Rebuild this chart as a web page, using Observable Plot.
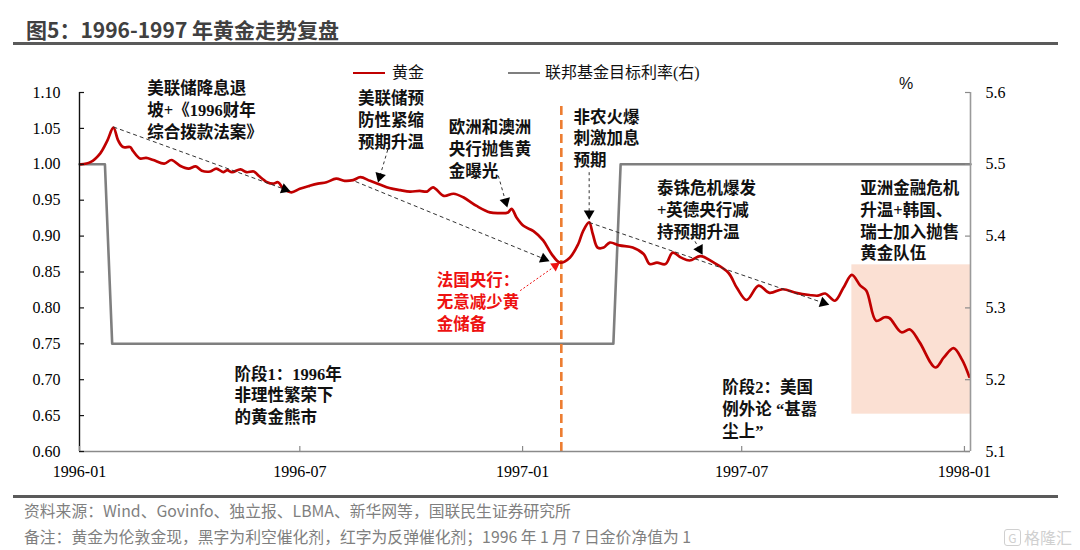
<!DOCTYPE html>
<html>
<head>
<meta charset="utf-8">
<script src="https://cdn.jsdelivr.net/npm/d3@7"></script>
<script src="https://cdn.jsdelivr.net/npm/@observablehq/plot@0.6"></script>
<style>
  body { margin: 0; background: #fff; }
  #fig { position: relative; width: 1080px; height: 550px; overflow: hidden; font-family: "Noto Sans CJK SC", sans-serif; }
  .abs { position: absolute; white-space: nowrap; }
  #title { left: 26px; top: 15px; font-size: 21px; line-height: 28px; font-weight: bold; color: #404040; }
  .rule { position: absolute; left: 13px; width: 1045px; height: 3px; background: #5a5a5a; }
  .legline { position: absolute; height: 2.6px; width: 32px; }
  .legtext { font-family: "Liberation Serif", "Noto Sans CJK SC", serif; font-size: 16px; line-height: 20px; color: #111; }
  .src { left: 24px; font-size: 15.8px; line-height: 22px; color: #7f7f7f; }
  #chart { position: absolute; left: 0; top: 0; }
  #wm { left: 1004px; top: 527px; font-size: 16px; line-height: 20px; color: #d0d0d0; }
  #wm span { display: inline-block; border: 1.5px solid #d0d0d0; border-radius: 3px; width: 15px; height: 15px; line-height: 15px; text-align: center; font-size: 12px; margin-right: 3px; vertical-align: 1px; }
</style>
</head>
<body>
<div id="fig">
  <div id="chart"></div>
  <div id="title" class="abs">图5：1996-1997 年黄金走势复盘</div>
  <div class="rule" style="top:41.5px"></div>
  <div class="legline" style="left:353px; top:71.5px; background:#C00000"></div>
  <div class="abs legtext" style="left:392px; top:62.5px">黄金</div>
  <div class="legline" style="left:508px; top:71.5px; background:#7f7f7f"></div>
  <div class="abs legtext" style="left:545px; top:62.5px">联邦基金目标利率(右)</div>
  <div class="abs legtext" style="left:899px; top:74px; font-family:'Liberation Sans','Noto Sans CJK SC',sans-serif;">%</div>
  <div class="rule" style="top:494.5px"></div>
  <div class="abs src" style="top:499.5px">资料来源：Wind、Govinfo、独立报、LBMA、新华网等，国联民生证券研究所</div>
  <div class="abs src" style="top:525.5px">备注：黄金为伦敦金现，黑字为利空催化剂，红字为反弹催化剂；1996 年 1 月 7 日金价净值为 1</div>
  <div id="wm" class="abs"><span>G</span>格隆汇</div>
</div>
<script>
// ---------- data ----------
const goldDates = [
  "1996-01-02","1996-01-10","1996-01-18","1996-01-24","1996-01-29","1996-02-02","1996-02-06","1996-02-12",
  "1996-02-14","1996-02-20","1996-02-25","1996-03-02","1996-03-11","1996-03-17","1996-03-24","1996-03-31",
  "1996-04-06","1996-04-11","1996-04-18","1996-04-23","1996-04-29","1996-05-02","1996-05-06","1996-05-13",
  "1996-05-18","1996-05-24","1996-05-28","1996-06-04","1996-06-09","1996-06-13","1996-06-17","1996-06-24",
  "1996-07-01","1996-07-09","1996-07-16","1996-07-23","1996-07-31","1996-08-07","1996-08-14","1996-08-20",
  "1996-08-28","1996-09-05","1996-09-13","1996-09-22","1996-09-30","1996-10-08","1996-10-14","1996-10-19",
  "1996-10-28","1996-11-05","1996-11-13","1996-11-24","1996-12-05","1996-12-13","1996-12-20","1996-12-23",
  "1996-12-27","1997-01-02","1997-01-10","1997-01-18","1997-01-25","1997-02-01","1997-02-09","1997-02-16",
  "1997-02-20","1997-02-25","1997-02-28","1997-03-04","1997-03-09","1997-03-14","1997-03-22","1997-04-02",
  "1997-04-11","1997-04-16","1997-04-22","1997-04-29","1997-05-05","1997-05-12","1997-05-19","1997-05-28",
  "1997-06-07","1997-06-20","1997-06-27","1997-07-05","1997-07-15","1997-07-24","1997-08-04","1997-08-15",
  "1997-08-26","1997-09-02","1997-09-08","1997-09-16","1997-09-23","1997-09-30","1997-10-07","1997-10-12",
  "1997-10-20","1997-10-27","1997-10-31","1997-11-10","1997-11-17","1997-11-25","1997-12-08","1997-12-15",
  "1997-12-23","1997-12-30","1998-01-05"
];
const goldValues = [
  1.000,1.003,1.015,1.033,1.051,1.033,1.024,1.024,
  1.019,1.008,1.009,1.006,1.001,1.006,0.998,0.994,
  0.997,0.991,0.990,0.994,0.989,0.992,0.989,0.993,
  0.989,0.990,0.984,0.975,0.973,0.975,0.967,0.961,
  0.966,0.970,0.973,0.975,0.980,0.977,0.978,0.982,
  0.977,0.972,0.967,0.964,0.962,0.963,0.962,0.968,
  0.956,0.959,0.954,0.942,0.933,0.932,0.933,0.938,
  0.926,0.914,0.907,0.894,0.875,0.863,0.870,0.889,
  0.907,0.919,0.903,0.884,0.884,0.891,0.887,0.884,
  0.875,0.861,0.863,0.861,0.877,0.870,0.866,0.872,
  0.864,0.849,0.828,0.811,0.831,0.821,0.826,0.821,
  0.818,0.817,0.820,0.810,0.828,0.846,0.831,0.824,
  0.782,0.787,0.786,0.766,0.770,0.752,0.717,0.731,
  0.744,0.728,0.704
];
const fedDates = ["1996-01-01","1996-01-22","1996-01-28","1997-03-17","1997-03-23","1998-01-06"];
const fedRates = [5.50, 5.50, 5.25, 5.25, 5.50, 5.50];

const xDomain = ["1996-01-01", "1998-01-06"];
const yDomain = [0.60, 1.10];
const rightDomain = [5.1, 5.6];
const yTicks = [0.60, 0.65, 0.70, 0.75, 0.80, 0.85, 0.90, 0.95, 1.00, 1.05, 1.10];
const rightTicks = [5.1, 5.2, 5.3, 5.4, 5.5, 5.6];
const xTicks = ["1996-01-01", "1996-07-01", "1997-01-01", "1997-07-01", "1998-01-01"];

const shadeDates = ["1997-09-30", "1998-01-06"];
const shadeValues = [0.652, 0.860];
const eventDate = "1997-02-02";
const eventTop = 1.085;

// trend arrows (black dashed)
const trendFromDates = ["1996-01-29", "1996-08-16", "1997-02-25"];
const trendFromValues = [1.052, 0.976, 0.919];
const trendToDates = ["1996-06-22", "1997-01-22", "1997-09-10"];
const trendToValues = [0.963, 0.866, 0.805];
// annotation pointers (black dashed)
const ptrFromDates = ["1996-09-13", "1996-12-12", "1997-02-25", "1997-05-21"];
const ptrFromValues = [1.028, 0.984, 0.989, 0.900];
const ptrToDates = ["1996-09-04", "1996-12-19", "1997-02-25", "1997-05-29"];
const ptrToValues = [0.977, 0.942, 0.925, 0.876];
// French central bank pointer (red dotted)
const redFromDates = ["1996-12-30"];
const redFromValues = [0.824];
const redToDates = ["1997-01-31"];
const redToValues = [0.862];

const annTexts = [
  "美联储降息退\n坡+《1996财年\n综合拨款法案》",
  "美联储预\n防性紧缩\n预期升温",
  "欧洲和澳洲\n央行抛售黄\n金曝光",
  "法国央行：\n无意减少黄\n金储备",
  "非农火爆\n刺激加息\n预期",
  "泰铢危机爆发\n+英德央行减\n持预期升温",
  "亚洲金融危机\n升温+韩国、\n瑞士加入抛售\n黄金队伍",
  "阶段1：1996年\n非理性繁荣下\n的黄金熊市",
  "阶段2：美国\n例外论 “甚嚣\n尘上”"
];
const annDates = ["1996-02-26","1996-08-18","1996-11-01","1996-10-22","1997-02-12","1997-04-22","1997-10-07","1996-05-08","1997-06-15"];
const annValues = [1.119, 1.105, 1.065, 0.852, 1.0795, 0.980, 0.980, 0.7215, 0.7028];
const annColors = ["#111","#111","#111","#EE1111","#111","#111","#111","#111","#111"];

// ---------- build ----------
const P = d3.utcParse("%Y-%m-%d");
const serif = "'Liberation Serif','Times New Roman','Noto Sans CJK SC',serif";
const toLeft = d3.scaleLinear().domain(rightDomain).range(yDomain);

const gold = goldDates.map((d, i) => ({date: P(d), value: goldValues[i]}));
const fed = fedDates.map((d, i) => ({date: P(d), y: toLeft(fedRates[i])}));
const ann = annTexts.map((t, i) => ({text: t, x: P(annDates[i]), y: annValues[i], color: annColors[i]}));

const base = {
  width: 1080, height: 550,
  marginTop: 92, marginBottom: 99, marginLeft: 79, marginRight: 110,
  x: {type: "utc", domain: xDomain.map(P), axis: null},
  y: {domain: yDomain, axis: null},
  style: {background: "transparent", overflow: "visible", color: "#000", fontFamily: serif}
};
const p0 = Plot.plot({...base, marks: [Plot.line(gold, {x: "date", y: "value"})]});
const sx = p0.scale("x"), sy = p0.scale("y");

function arrows(fd, fv, td, tv) {
  return fd.map((d, i) => {
    const a = {x1: P(d), y1: fv[i], x2: P(td[i]), y2: tv[i]};
    const px1 = sx.apply(a.x1), py1 = sy.apply(a.y1), px2 = sx.apply(a.x2), py2 = sy.apply(a.y2);
    const dx = px2 - px1, dy = py2 - py1, len = Math.hypot(dx, dy);
    a.angle = Math.atan2(dx, -dy) * 180 / Math.PI;
    a.hx = sx.invert(px2 - dx / len * 4.5);
    a.hy = sy.invert(py2 - dy / len * 4.5);
    return a;
  });
}
const trends = arrows(trendFromDates, trendFromValues, trendToDates, trendToValues);
const ptrs = arrows(ptrFromDates, ptrFromValues, ptrToDates, ptrToValues);
const reds = arrows(redFromDates, redFromValues, redToDates, redToValues);

const x0 = P(xDomain[0]), x1 = P(xDomain[1]);

const chart = Plot.plot({
  ...base,
  marks: [
    Plot.rect([{x1: P(shadeDates[0]), x2: P(shadeDates[1]), y1: shadeValues[0], y2: shadeValues[1]}],
      {x1: "x1", x2: "x2", y1: "y1", y2: "y2", fill: "#FBE0D3"}),
    Plot.line(fed, {x: "date", y: "y", stroke: "#7f7f7f", strokeWidth: 2.6}),
    Plot.ruleX([{x: P(eventDate)}], {x: "x", y1: yDomain[0], y2: eventTop, stroke: "#ED7D31", strokeWidth: 2.6, strokeDasharray: "9,5"}),
    Plot.line(gold, {x: "date", y: "value", stroke: "#C00000", strokeWidth: 2.7, curve: "catmull-rom"}),
    Plot.link(trends, {x1: "x1", y1: "y1", x2: "x2", y2: "y2", stroke: "#333", strokeWidth: 1, strokeDasharray: "4,3"}),
    Plot.link(ptrs, {x1: "x1", y1: "y1", x2: "x2", y2: "y2", stroke: "#333", strokeWidth: 1, strokeDasharray: "3,3"}),
    Plot.link(reds, {x1: "x1", y1: "y1", x2: "x2", y2: "y2", stroke: "#EE1111", strokeWidth: 1, strokeDasharray: "2,2"}),
    Plot.dot([...trends, ...ptrs], {x: "hx", y: "hy", symbol: "triangle", r: 4, fill: "#000", stroke: "none", rotate: "angle"}),
    Plot.dot(reds, {x: "hx", y: "hy", symbol: "triangle", r: 3.6, fill: "#EE1111", stroke: "none", rotate: "angle"}),
    Plot.text(ann, {x: "x", y: "y", text: "text", fill: "color", textAnchor: "start", lineAnchor: "top",
      fontSize: 16.5, fontWeight: "bold", lineHeight: 1.32, fontFamily: serif}),
    Plot.ruleY([yDomain[0]], {stroke: "#8a8a8a", strokeWidth: 1.6}),
    Plot.ruleX([x0], {stroke: "#111", strokeWidth: 1.4}),
    Plot.ruleX([x1], {stroke: "#9a9a9a", strokeWidth: 1.6}),
    Plot.ruleY(yTicks, {x1: x0, x2: x0, insetRight: -5, stroke: "#111", strokeWidth: 1.2}),
    Plot.ruleY(rightTicks.map(toLeft), {x1: x1, x2: x1, insetLeft: -5, stroke: "#8a8a8a", strokeWidth: 1.2}),
    Plot.ruleX(xTicks.map(P), {y1: yDomain[0], y2: yDomain[0], insetTop: -5, stroke: "#8a8a8a", strokeWidth: 1.2}),
    Plot.axisY(yTicks, {anchor: "left", tickSize: 0, tickPadding: 19, tickFormat: d3.format(".2f"), fontSize: 16, fontFamily: serif, label: null}),
    Plot.axisY(rightTicks.map(toLeft), {anchor: "right", tickSize: 0, tickPadding: 15, tickFormat: d => d3.format(".1f")(toLeft.invert(d)), fontSize: 16, fontFamily: serif, label: null}),
    Plot.axisX(xTicks.map(P), {anchor: "bottom", tickSize: 0, tickPadding: 14, tickFormat: d3.utcFormat("%Y-%m"), fontSize: 16, fontFamily: serif, label: null})
  ]
});
document.getElementById("chart").appendChild(chart);
</script>
</body>
</html>
